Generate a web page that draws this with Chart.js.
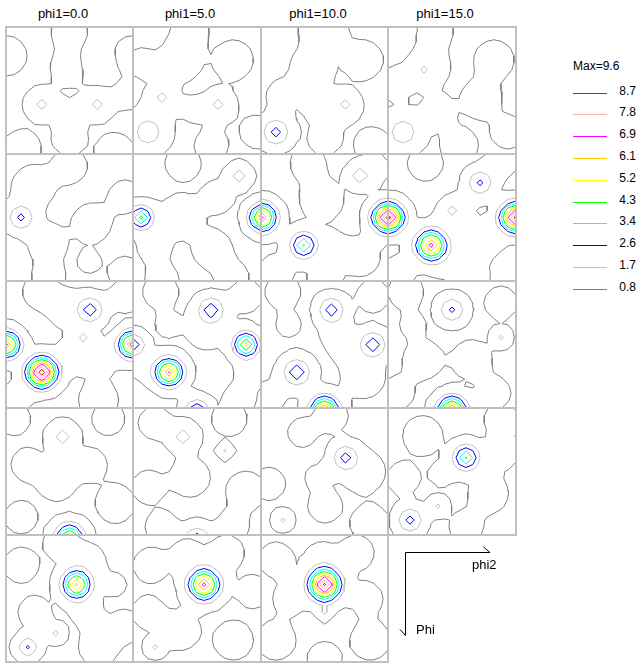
<!DOCTYPE html>
<html>
<head>
<meta charset="utf-8">
<script src="https://cdn.jsdelivr.net/npm/chart.js@4.4.1/dist/chart.umd.min.js"></script>
<style>
  body { margin: 0; background: #fff; font-family: "Liberation Sans", Arial, sans-serif; color: #000; }
  .panel { position: absolute; border: 2px solid #c0c0c0; background: #fff; }
  .panel canvas { display: block; }
  .title { position: absolute; width: 120px; text-align: center; font-size: 13px; line-height: 15px; }
  .lg-text { position: absolute; left: 612px; width: 24px; text-align: right; font-size: 12px; line-height: 14px; }
  .ax { position: absolute; font-size: 13px; line-height: 15px; }
</style>
</head>
<body>
<div id="root"></div>
<svg id="overlay" width="643" height="664" style="position:absolute;left:0;top:0;pointer-events:none">
  <g stroke="#000" stroke-width="1" fill="none">
    <line x1="405.5" y1="552.5" x2="490" y2="552.5"/>
    <line x1="483.5" y1="547" x2="490" y2="552.5"/>
    <line x1="405.5" y1="552.5" x2="405.5" y2="635.5"/>
    <line x1="400" y1="629.5" x2="405.5" y2="635.5"/>
  </g>
</svg>
<div class="ax" style="left:472px;top:557px">phi2</div>
<div class="ax" style="left:416px;top:622px">Phi</div>
<script>
// sections and contour levels
const phi1Sections = [0, 5, 10, 15, 20, 25, 30, 35, 40, 45, 50, 55, 60, 65, 70, 75, 80, 85, 90];
const levels = [0.8, 1.7, 2.6, 3.4, 4.3, 5.2, 6.1, 6.9, 7.8, 8.7];
const levelColors = ["#808080", "#c0c0c0", "#0000ff", "#00ffff", "#00ff00", "#ffff00", "#ffc800", "#ff00ff", "#ffafaf", "#ff0000"];
const maxValue = 9.6;
const baseLevel = 0.7;
const gridStep = 5;

// peaks per section: [phi2, Phi, height, width]
const peaks = [
  [[25, 55, 1.9, 4], [65, 55, 1.9, 4]],
  [[10, 75, 2.3, 8], [20, 50, 1.85, 4], [60, 55, 1.9, 4]],
  [[10, 75, 3.0, 6.5], [60, 55, 1.85, 4]],
  [[10, 75, 2.3, 8], [25, 30, 1.8, 3]],
  [[10, 45, 2.9, 6]],
  [[5, 45, 4.6, 5.5], [92, 45, 7, 6], [75, 15, 2.2, 5]],
  [[0, 45, 7.2, 6.5], [90, 45, 9, 6.5], [30, 65, 4.4, 6.2], [70, 15, 2.2, 5]],
  [[0, 45, 9, 6.5], [30, 65, 7.3, 6.8], [90, 45, 9, 6.5], [65, 20, 2.85, 6], [45, 40, 1.85, 4]],
  [[60, 20, 3.2, 6], [0, 45, 7, 6], [90, 45, 7.5, 6], [25, 65, 9.6, 6.7], [55, 40, 1.9, 4]],
  [[55, 20, 3.2, 6], [0, 45, 3.3, 5], [80, 45, 5.5, 5.8], [25, 65, 7, 6.3], [45, 93, 3.8, 5.5]],
  [[50, 20, 3.2, 6], [80, 45, 3.3, 6], [25, 65, 3.3, 6.5], [45, 93, 7.6, 6.5]],
  [[45, 20, 2.85, 6], [45, 93, 7.6, 6.5], [80, 40, 1.9, 4]],
  [[45, 93, 6, 6.5], [40, 20, 2.1, 6]],
  [[45, 94, 3.2, 6], [35, 20, 2.1, 6], [65, 30, 1.85, 3]],
  [[60, 35, 3.0, 6], [15, 80, 1.9, 4]],
  [[55, 35, 4.4, 6], [15, 80, 3.0, 6], [35, 70, 1.9, 4]],
  [[50, 35, 6.3, 6.5], [15, 80, 2.8, 5], [35, 70, 1.95, 4]],
  [[50, 35, 7.3, 7], [15, 80, 1.9, 4]],
  [[45, 35, 9, 7], [45, 55, 1.85, 3]]
];

// low background bumps (+) and dips (-) per section: [phi2, Phi, amplitude, width]
const bumps = [
  [[45, 3, 0.35, 8], [0, 20, 0.35, 9], [90, 20, 0.35, 9], [25, 55, 0.3, 9], [65, 55, 0.3, 9], [45, 62, 0.3, 6], [88, 48, 0.3, 7], [10, 88, 0.35, 9], [78, 90, 0.35, 9], [45, 28, 0.3, 9], [45, 80, 0.3, 8], [65, 25, -0.3, 7]],
  [[40, 2, 0.35, 8], [71, 23, 0.35, 9], [61, 56, 0.3, 9], [19, 52, 0.3, 9], [42, 59, 0.25, 6], [33, 23, 0.35, 10], [88, 75, 0.3, 8], [55, 85, 0.3, 8], [5, 25, 0.3, 7]],
  [[37, 2, 0.3, 7], [52, 4, 0.3, 7], [36, 28, 0.35, 10], [73, 23, 0.35, 9], [38, 59, 0.25, 6], [59, 56, 0.3, 9], [15, 49, 0.3, 8], [80, 85, 0.3, 9], [45, 80, 0.3, 8]],
  [[33, 2, 0.35, 8], [28, 28, 0.35, 10], [75, 23, 0.35, 9], [66, 51, 0.35, 9], [5, 40, 0.3, 8], [50, 85, 0.3, 9], [35, 60, 0.3, 8], [85, 75, 0.3, 8]],
  [[45, 8, 0.35, 8], [19, 23, 0.35, 10], [61, 49, 0.35, 9], [59, 77, 0.25, 6], [29, 63, 0.35, 9], [85, 30, 0.3, 8], [30, 88, 0.3, 8], [85, 85, 0.3, 8]],
  [[35, 6, 0.35, 8], [33, 44, 0.35, 10], [56, 68, 0.35, 9], [14, 66, 0.3, 8], [70, 88, 0.3, 8], [60, 30, 0.3, 8], [20, 90, 0.3, 8]],
  [[33, 6, 0.35, 8], [43, 32, 0.35, 10], [50, 65, 0.3, 7], [10, 84, 0.35, 8], [71, 73, 0.35, 9], [80, 10, 0.3, 8], [45, 90, 0.3, 8]],
  [[26, 6, 0.35, 8], [47, 42, 0.3, 9], [7, 84, 0.3, 8], [42, 75, 0.35, 9], [68, 61, 0.35, 9], [80, 5, 0.3, 8], [60, 88, 0.3, 8]],
  [[24, 7, 0.35, 8], [43, 19, 0.35, 9], [50, 52, 0.35, 9], [69, 54, 0.35, 8], [5, 85, 0.3, 8], [66, 85, 0.35, 9], [85, 10, 0.3, 8]],
  [[19, 7, 0.35, 8], [24, 31, 0.3, 6], [52, 33, 0.35, 10], [85, 63, 0.35, 8], [7, 59, 0.3, 8], [75, 85, 0.3, 8], [80, 10, 0.3, 8]],
  [[15, 7, 0.35, 8], [19, 31, 0.3, 6], [51, 35, 0.3, 6], [5, 83, 0.3, 8], [73, 68, 0.35, 10], [60, 45, 0.3, 9], [80, 10, 0.3, 8]],
  [[12, 7, 0.35, 8], [17, 31, 0.3, 6], [24, 56, 0.35, 9], [6, 80, 0.3, 8], [59, 56, 0.35, 9], [80, 15, 0.3, 8], [75, 80, 0.3, 8]],
  [[5, 7, 0.3, 8], [73, 7, 0.3, 8], [36, 52, 0.35, 9], [78, 68, 0.35, 9], [10, 78, 0.3, 8], [15, 40, 0.3, 8], [60, 40, 0.3, 8]],
  [[68, 7, 0.35, 8], [40, 49, 0.35, 9], [10, 56, 0.3, 8], [80, 59, 0.35, 9], [20, 85, 0.3, 8], [15, 10, 0.3, 8], [70, 85, 0.3, 8]],
  [[29, 17, 0.3, 7], [40, 49, 0.3, 6], [73, 45, 0.35, 10], [5, 54, 0.3, 8], [78, 83, 0.35, 9], [50, 5, 0.3, 8], [45, 70, 0.3, 8]],
  [[24, 19, 0.35, 9], [38, 47, 0.3, 6], [80, 31, 0.35, 8], [80, 7, 0.3, 8], [71, 61, 0.35, 9], [10, 50, 0.3, 8], [55, 85, 0.3, 8]],
  [[10, 21, 0.35, 8], [57, 19, 0.35, 9], [38, 5, 0.3, 8], [57, 54, 0.3, 8], [78, 35, 0.25, 6], [66, 80, 0.35, 9], [20, 55, 0.3, 8], [85, 65, 0.3, 8]],
  [[12, 21, 0.35, 8], [38, 14, 0.3, 8], [66, 12, 0.35, 8], [33, 68, 0.35, 9], [71, 75, 0.35, 9], [85, 40, 0.3, 8], [10, 55, 0.3, 8]],
  [[43, 17, 0.35, 8], [10, 17, 0.35, 8], [68, 12, 0.35, 8], [10, 75, 0.35, 9], [78, 75, 0.35, 9], [45, 88, 0.3, 8], [20, 45, 0.3, 8], [75, 45, 0.3, 8]]
];

let root = document.getElementById("root");
let overlay = document.getElementById("overlay");
let colLeft = [5, 132, 260, 387];
let colWidth = [125, 126, 125, 126];
let rowTop = [26, 153, 280, 407, 534];

// value on the 5 degree grid
let fieldAt = (k, x, y) => {
  let v = baseLevel;
  peaks[k].forEach(([px, py, h, s]) => {
    v += (h - baseLevel) * Math.exp(-((x - px) ** 2 + (y - py) ** 2) / (2 * s * s));
  });
  bumps[k].forEach(([px, py, a, s]) => {
    v += a * Math.exp(-((x - px) ** 2 + (y - py) ** 2) / (2 * s * s));
  });
  return v;
};

// marching squares -> segments separated by gaps
let contourSegments = (grid, level) => {
  let out = [];
  let n = grid.length - 1;
  let lerp = (p, q, vp, vq) => p + (q - p) * (level - vp) / (vq - vp);
  for (let i = 0; i < n; i++) {
    for (let j = 0; j < n; j++) {
      let a = grid[i][j], b = grid[i + 1][j], c = grid[i + 1][j + 1], d = grid[i][j + 1];
      let idx = (a >= level ? 8 : 0) | (b >= level ? 4 : 0) | (c >= level ? 2 : 0) | (d >= level ? 1 : 0);
      if (idx === 0 || idx === 15) continue;
      let x0 = i * gridStep, x1 = x0 + gridStep, y0 = j * gridStep, y1 = y0 + gridStep;
      let top = { x: lerp(x0, x1, a, b), y: y0 };
      let right = { x: x1, y: lerp(y0, y1, b, c) };
      let bottom = { x: lerp(x0, x1, d, c), y: y1 };
      let left = { x: x0, y: lerp(y0, y1, a, d) };
      let center = (a + b + c + d) / 4;
      let pairs = [];
      switch (idx) {
        case 1: case 14: pairs = [[left, bottom]]; break;
        case 2: case 13: pairs = [[bottom, right]]; break;
        case 3: case 12: pairs = [[left, right]]; break;
        case 4: case 11: pairs = [[top, right]]; break;
        case 6: case 9: pairs = [[top, bottom]]; break;
        case 7: case 8: pairs = [[left, top]]; break;
        case 5:
          pairs = center >= level ? [[left, top], [bottom, right]] : [[top, right], [left, bottom]];
          break;
        case 10:
          pairs = center >= level ? [[top, right], [left, bottom]] : [[left, top], [bottom, right]];
          break;
      }
      pairs.forEach(([p, q]) => {
        out.push(p, q, { x: null, y: null });
      });
    }
  }
  return out;
};

phi1Sections.forEach((phi1, k) => {
  let col = k % 4;
  let row = Math.floor(k / 4);
  let box = document.createElement("div");
  box.className = "panel";
  box.style.left = colLeft[col] + "px";
  box.style.top = rowTop[row] + "px";
  box.style.width = colWidth[col] + "px";
  box.style.height = "125px";
  let canvas = document.createElement("canvas");
  canvas.width = colWidth[col];
  canvas.height = 125;
  box.appendChild(canvas);
  root.appendChild(box);

  if (row === 0) {
    let t = document.createElement("div");
    t.className = "title";
    t.style.left = colLeft[col] + 1 + 57 - 60 + "px";
    t.style.top = "6px";
    t.textContent = `phi1=${phi1.toFixed(1)}`;
    root.appendChild(t);
  }

  let grid = [];
  for (let i = 0; i <= 90 / gridStep; i++) {
    grid.push([]);
    for (let j = 0; j <= 90 / gridStep; j++) {
      grid[i].push(fieldAt(k, i * gridStep, j * gridStep));
    }
  }

  new Chart(canvas, {
    type: "scatter",
    data: {
      datasets: levels.map((lv, n) => ({
        label: lv.toFixed(1),
        data: contourSegments(grid, lv),
        showLine: true,
        spanGaps: false,
        borderColor: levelColors[n],
        borderWidth: 1,
        pointRadius: 0,
        fill: false,
      })),
    },
    options: {
      responsive: false,
      animation: false,
      events: [],
      layout: { padding: 0 },
      plugins: { legend: { display: false }, tooltip: { enabled: false } },
      scales: {
        x: { type: "linear", min: 0, max: 90, display: false },
        y: { type: "linear", min: 0, max: 90, reverse: true, display: false },
      },
    },
  });
});

// legend
let maxLabel = document.createElement("div");
maxLabel.className = "lg-text";
maxLabel.style.left = "573px";
maxLabel.style.width = "60px";
maxLabel.style.textAlign = "left";
maxLabel.style.top = "59px";
maxLabel.textContent = `Max=${maxValue.toFixed(1)}`;
root.appendChild(maxLabel);

levels.slice().reverse().forEach((lv, n) => {
  let y = Math.round(92.5 + n * 21.8) + 0.5;
  let line = document.createElementNS("http://www.w3.org/2000/svg", "line");
  line.setAttribute("x1", 573);
  line.setAttribute("x2", 607);
  line.setAttribute("y1", y);
  line.setAttribute("y2", y);
  line.setAttribute("stroke", levelColors[levels.length - 1 - n]);
  line.setAttribute("stroke-width", 1);
  line.setAttribute("shape-rendering", "crispEdges");
  overlay.appendChild(line);
  let txt = document.createElement("div");
  txt.className = "lg-text";
  txt.style.top = Math.round(y - 10) + "px";
  txt.textContent = lv.toFixed(1);
  root.appendChild(txt);
});
</script>
</body>
</html>
